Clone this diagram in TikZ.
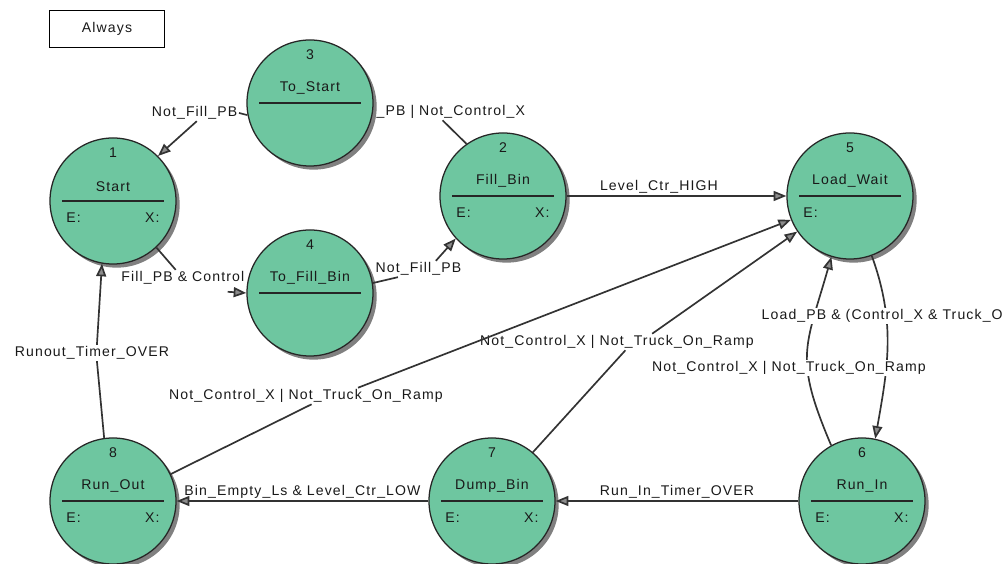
\documentclass[tikz,border=0pt]{standalone}
\usepackage{fontspec}
\setmainfont{Liberation Sans}[LetterSpace=8]
\usetikzlibrary{arrows.meta, shadows}
\definecolor{stategreen}{RGB}{110,198,160}
\tikzset{
  state/.style={circle, draw=black!85, line width=0.9pt, fill=stategreen, minimum size=3.15cm, inner sep=0pt,
    drop shadow={shadow xshift=2.6pt, shadow yshift=-2.6pt, fill=black!50, opacity=1}},
  txt/.style={inner sep=1pt, font=\fontsize{10}{12}\selectfont, text=black!90},
  bar/.style={black!85, line width=1pt},
  edge/.style={black!80, line width=1.2pt},
  arr/.style={edge, -{Triangle[length=9pt, width=7pt, fill=black!45]}},
}
\begin{document}
\begin{tikzpicture}[x=0.025cm, y=0.025cm]
\useasboundingbox (0,0) rectangle (1008,564);
\node[txt, draw, line width=0.6pt, minimum width=2.875cm, minimum height=0.925cm] (always) at (107,535) {Always};

% states
\node[state] (s1) at (113,363) {};
\node[txt] (s1num) at ([yshift=34.5pt]s1.center) {1};
\node[txt] (s1name) at ([yshift=10.5pt]s1.center) {Start};
\draw[bar] ([xshift=-36pt]s1.center) -- ([xshift=36pt]s1.center);
\node[txt] (s1e) at ([xshift=-28pt,yshift=-12pt]s1.center) {E:};
\node[txt] (s1x) at ([xshift=28pt,yshift=-12pt]s1.center) {X:};

\node[state] (s2) at (503,368) {};
\node[txt] (s2num) at ([yshift=34.5pt]s2.center) {2};
\node[txt] (s2name) at ([yshift=10.5pt]s2.center) {Fill\_Bin};
\draw[bar] ([xshift=-36pt]s2.center) -- ([xshift=36pt]s2.center);
\node[txt] (s2e) at ([xshift=-28pt,yshift=-12pt]s2.center) {E:};
\node[txt] (s2x) at ([xshift=28pt,yshift=-12pt]s2.center) {X:};

\node[state] (s3) at (310,461) {};
\node[txt] (s3num) at ([yshift=34.5pt]s3.center) {3};
\node[txt] (s3name) at ([yshift=10.5pt]s3.center) {To\_Start};
\draw[bar] ([xshift=-36pt]s3.center) -- ([xshift=36pt]s3.center);

\node[state] (s4) at (310,271) {};
\node[txt] (s4num) at ([yshift=34.5pt]s4.center) {4};
\node[txt] (s4name) at ([yshift=10.5pt]s4.center) {To\_Fill\_Bin};
\draw[bar] ([xshift=-36pt]s4.center) -- ([xshift=36pt]s4.center);

\node[state] (s5) at (850,368) {};
\node[txt] (s5num) at ([yshift=34.5pt]s5.center) {5};
\node[txt] (s5name) at ([yshift=10.5pt]s5.center) {Load\_Wait};
\draw[bar] ([xshift=-36pt]s5.center) -- ([xshift=36pt]s5.center);
\node[txt] (s5e) at ([xshift=-28pt,yshift=-12pt]s5.center) {E:};

\node[state] (s6) at (862,63) {};
\node[txt] (s6num) at ([yshift=34.5pt]s6.center) {6};
\node[txt] (s6name) at ([yshift=10.5pt]s6.center) {Run\_In};
\draw[bar] ([xshift=-36pt]s6.center) -- ([xshift=36pt]s6.center);
\node[txt] (s6e) at ([xshift=-28pt,yshift=-12pt]s6.center) {E:};
\node[txt] (s6x) at ([xshift=28pt,yshift=-12pt]s6.center) {X:};

\node[state] (s7) at (492,63) {};
\node[txt] (s7num) at ([yshift=34.5pt]s7.center) {7};
\node[txt] (s7name) at ([yshift=10.5pt]s7.center) {Dump\_Bin};
\draw[bar] ([xshift=-36pt]s7.center) -- ([xshift=36pt]s7.center);
\node[txt] (s7e) at ([xshift=-28pt,yshift=-12pt]s7.center) {E:};
\node[txt] (s7x) at ([xshift=28pt,yshift=-12pt]s7.center) {X:};

\node[state] (s8) at (113,63) {};
\node[txt] (s8num) at ([yshift=34.5pt]s8.center) {8};
\node[txt] (s8name) at ([yshift=10.5pt]s8.center) {Run\_Out};
\draw[bar] ([xshift=-36pt]s8.center) -- ([xshift=36pt]s8.center);
\node[txt] (s8e) at ([xshift=-28pt,yshift=-12pt]s8.center) {E:};
\node[txt] (s8x) at ([xshift=28pt,yshift=-12pt]s8.center) {X:};

% transition labels
\node[txt, anchor=east] (l31) at (239,451) {Not\_Fill\_PB};
\node[txt, anchor=west] (l23) at (375,452) {\_PB | Not\_Control\_X};
\node[txt, anchor=west] (l42) at (374,295) {Not\_Fill\_PB};
\node[txt, anchor=east] (l14) at (246,286) {Fill\_PB \& Control};
\node[txt] (l81) at (92,211) {Runout\_Timer\_OVER};
\node[txt] (l85) at (306,168) {Not\_Control\_X | Not\_Truck\_On\_Ramp};
\node[txt] (l75) at (617,222) {Not\_Control\_X | Not\_Truck\_On\_Ramp};

% transitions
\draw[edge] (s3.191) -- (l31.east);
\draw[arr] ([xshift=-30pt]l31.south east) -- (s1.45);
\draw[edge] (s2.125) -- ([xshift=48pt]l23.south west);
\draw[edge] (s4.9) -- ([xshift=17pt]l42.south west);
\draw[arr] ([xshift=44pt]l42.north west) -- (s2.222);
\draw[edge] (s1.-47) -- ([xshift=-50pt]l14.north east);
\draw[arr] ([xshift=-13pt,yshift=-4pt]l14.south east) -- (s4.west);
\draw[edge] (s8.98) -- ([xshift=3.5pt]l81.south);
\draw[arr] ([xshift=3.5pt]l81.north) -- (s1.260);
\draw[edge] (s8.25) -- ([xshift=4pt]l85.south);
\draw[arr] ([xshift=37pt]l85.north) -- (s5.202);
\draw[edge] (s7.50) -- ([xshift=6pt]l75.south);
\draw[arr] ([xshift=25pt]l75.north) -- (s5.214);
\draw[arr] (s2.east) -- node[txt, above, pos=0.42] (l25) {Level\_Ctr\_HIGH} (s5.west);
\draw[arr] (s6.west) -- node[txt, above] (l67) {Run\_In\_Timer\_OVER} (s7.east);
\draw[arr] (s7.west) -- node[txt, above] (l78) {Bin\_Empty\_Ls \& Level\_Ctr\_LOW} (s8.east);
\draw[arr] (s6.119) to[out=113, in=254, looseness=1.3] (s5.253);
\draw[arr] (s5.-70) to[out=-70, in=80] (s6.78);
\node[txt, fill=white, anchor=west] (l56) at (760,248) {Load\_PB \& (Control\_X \& Truck\_O};
\node[txt, fill=white] (l65) at (789,196) {Not\_Control\_X | Not\_Truck\_On\_Ramp};
\end{tikzpicture}
\end{document}
